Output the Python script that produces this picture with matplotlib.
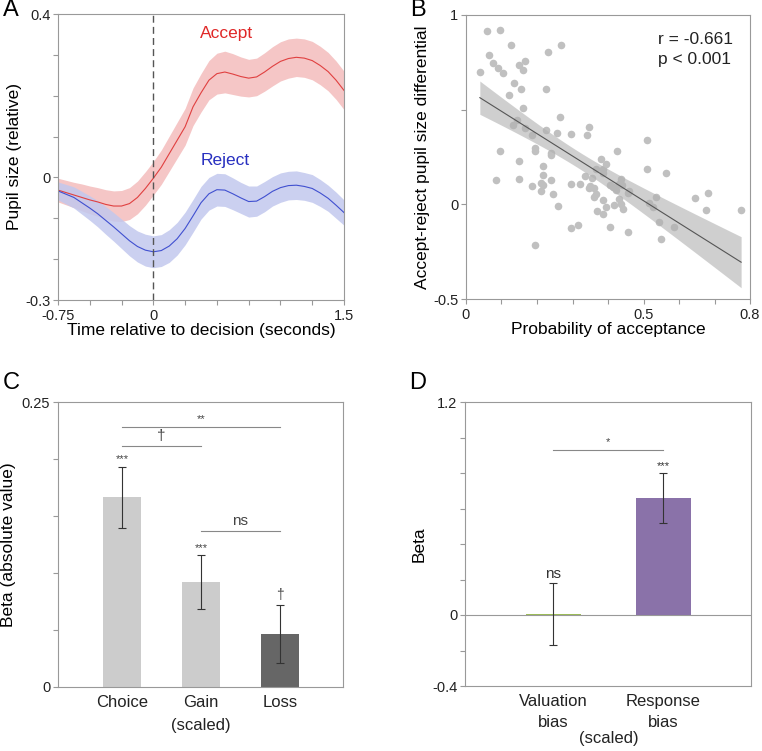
import numpy as np
import matplotlib
matplotlib.use('Agg')
import matplotlib.pyplot as plt

plt.rcParams['font.family'] = ['Liberation Sans', 'DejaVu Sans']

# Panel A: pupil time courses (seconds relative to decision)
t = [-0.75, -0.6875, -0.625, -0.5625, -0.5, -0.4375, -0.375, -0.3125, -0.25, -0.1875,
     -0.125, -0.0625, 0.0, 0.0625, 0.125, 0.1875, 0.25, 0.3125, 0.375, 0.4375,
     0.5, 0.5625, 0.625, 0.6875, 0.75, 0.8125, 0.875, 0.9375, 1.0, 1.0625,
     1.125, 1.1875, 1.25, 1.3125, 1.375, 1.4375, 1.5]
acc_mean = [-0.031, -0.037, -0.043, -0.049, -0.055, -0.060, -0.066, -0.070, -0.070, -0.064,
            -0.049, -0.027, -0.002, 0.025, 0.058, 0.091, 0.124, 0.173, 0.207, 0.238,
            0.254, 0.258, 0.253, 0.247, 0.243, 0.246, 0.258, 0.272, 0.284, 0.291,
            0.294, 0.292, 0.286, 0.274, 0.259, 0.238, 0.213]
acc_err = [0.029, 0.030, 0.031, 0.033, 0.034, 0.035, 0.036, 0.037, 0.038, 0.039,
           0.040, 0.041, 0.041, 0.042, 0.043, 0.044, 0.045, 0.046, 0.047, 0.048,
           0.050, 0.051, 0.050, 0.048, 0.046, 0.046, 0.047, 0.048, 0.048, 0.048,
           0.047, 0.047, 0.047, 0.047, 0.047, 0.047, 0.047]
rej_mean = [-0.033, -0.041, -0.049, -0.062, -0.075, -0.089, -0.105, -0.121, -0.138, -0.155,
            -0.169, -0.178, -0.182, -0.179, -0.168, -0.150, -0.125, -0.094, -0.062, -0.040,
            -0.030, -0.031, -0.040, -0.050, -0.059, -0.058, -0.047, -0.034, -0.025, -0.020,
            -0.019, -0.022, -0.027, -0.038, -0.051, -0.068, -0.086]
rej_err = [0.022, 0.024, 0.026, 0.028, 0.030, 0.032, 0.034, 0.035, 0.036, 0.037,
           0.038, 0.039, 0.039, 0.039, 0.040, 0.040, 0.040, 0.040, 0.040, 0.040,
           0.040, 0.040, 0.039, 0.038, 0.038, 0.037, 0.037, 0.036, 0.036, 0.035,
           0.035, 0.034, 0.034, 0.033, 0.032, 0.032, 0.031]

# Panel B: per-subject scatter
prob_acc = [0.039, 0.060, 0.065, 0.075, 0.090, 0.095, 0.105, 0.126, 0.135, 0.121,
            0.149, 0.165, 0.161, 0.155, 0.161, 0.131, 0.145, 0.165, 0.185, 0.194,
            0.194, 0.095, 0.149, 0.149, 0.085, 0.216, 0.216, 0.185, 0.210, 0.216,
            0.210, 0.240, 0.240, 0.240, 0.245, 0.260, 0.225, 0.231, 0.269, 0.265,
            0.255, 0.225, 0.295, 0.295, 0.320, 0.295, 0.315, 0.194, 0.335, 0.340,
            0.346, 0.350, 0.356, 0.346, 0.361, 0.361, 0.365, 0.370, 0.385, 0.386,
            0.380, 0.365, 0.385, 0.395, 0.385, 0.395, 0.406, 0.416, 0.425, 0.406,
            0.415, 0.422, 0.431, 0.436, 0.436, 0.441, 0.431, 0.440, 0.455, 0.455,
            0.460, 0.511, 0.511, 0.516, 0.526, 0.535, 0.545, 0.550, 0.564, 0.585,
            0.645, 0.675, 0.681, 0.775]
pupil_diff = [0.701, 0.913, 0.790, 0.749, 0.719, 0.922, 0.696, 0.843, 0.643, 0.578,
              0.737, 0.758, 0.707, 0.610, 0.509, 0.419, 0.445, 0.405, 0.366, 0.299,
              0.283, 0.281, 0.228, 0.136, 0.127, 0.203, 0.157, 0.095, 0.113, 0.104,
              0.071, 0.127, 0.272, 0.260, 0.053, -0.009, 0.608, 0.807, 0.843, 0.459,
              0.376, 0.392, 0.373, 0.106, 0.106, -0.127, -0.111, -0.217, 0.150, 0.367,
              0.410, 0.095, 0.138, 0.088, 0.087, 0.037, 0.057, -0.035, -0.051, 0.025,
              0.239, 0.189, 0.186, 0.212, 0.163, -0.014, -0.120, -0.005, 0.283, 0.104,
              0.092, 0.078, 0.110, 0.133, 0.000, -0.027, 0.028, 0.101, -0.148, 0.060,
              0.072, 0.339, 0.186, 0.009, -0.016, 0.039, -0.095, -0.184, 0.166, -0.122,
              0.035, -0.028, 0.060, -0.028]

# Panel C: bar chart
c_labels = ['Choice', 'Gain\n(scaled)', 'Loss']
c_vals = [0.1663, 0.0922, 0.0467]
c_errs = [0.027, 0.0235, 0.0255]
c_colors = ['#cccccc', '#cccccc', '#666666']
c_stars = ['***', '***', '\u2020']

# Panel D: bar chart
d_labels = ['Valuation\nbias', 'Response\nbias']
d_vals = [0.004, 0.660]
d_errs = [0.175, 0.142]
d_colors = ['#9bbb59', '#8a72a9']
d_stars = ['ns', '***']

W, H = 762, 751
fig = plt.figure(figsize=(W / 100, H / 100), dpi=100)


def box(l, t_, r, b):
    return [l / W, 1 - b / H, (r - l) / W, (b - t_) / H]


def style(ax):
    for s in ax.spines.values():
        s.set_color('#999999')
        s.set_linewidth(0.8)
    ax.tick_params(color='#999999', length=3.5, width=0.8, labelsize=10.5,
                   labelcolor='#222222', pad=2)


def sparse_labels(ticks, keep):
    return [keep.get(round(v, 3), '') for v in ticks]


# ---- A ----
ax = fig.add_axes(box(58, 14, 344, 300))
style(ax)
ax.fill_between(t, np.array(acc_mean) - acc_err, np.array(acc_mean) + acc_err,
                color='#f5c6c6', lw=0)
ax.fill_between(t, np.array(rej_mean) - rej_err, np.array(rej_mean) + rej_err,
                color='#c2c8ee', lw=0, alpha=0.85)
ax.plot(t, acc_mean, color='#e04040', lw=0.8)
ax.plot(t, rej_mean, color='#4050d0', lw=0.8)
ax.axvline(0, color='#555555', lw=1, dashes=(5, 3))
ax.set_xlim(-0.75, 1.5)
ax.set_ylim(-0.3, 0.4)
xt = np.arange(-0.75, 1.51, 0.25)
ax.set_xticks(xt, sparse_labels(xt, {-0.75: '-0.75', 0.0: '0', 1.5: '1.5'}))
yt = np.arange(-0.3, 0.41, 0.1)
ax.set_yticks(yt, sparse_labels(yt, {-0.3: '-0.3', 0.0: '0', 0.4: '0.4'}))
ax.tick_params(axis='x', pad=3)
ax.text(0.577, 0.352, 'Accept', color='#e02828', fontsize=12.5, ha='center', va='center')
ax.text(0.563, 0.042, 'Reject', color='#2830c0', fontsize=12.5, ha='center', va='center')
ax.set_xlabel('Time relative to decision (seconds)', fontsize=12.5, labelpad=0)
ax.set_ylabel('Pupil size (relative)', fontsize=12.5, labelpad=2)
fig.text(11 / W, 1 - 10 / H, 'A', fontsize=17, ha='center', va='center')

# ---- B ----
ax = fig.add_axes(box(466, 15, 750, 299))
style(ax)
x = np.array(prob_acc)
y = np.array(pupil_diff)
slope, icpt = np.polyfit(x, y, 1)
xs = np.linspace(x.min(), x.max(), 100)
n = len(x)
resid = y - (slope * x + icpt)
s = np.sqrt(np.sum(resid ** 2) / (n - 2))
ci = 1.99 * s * np.sqrt(1 / n + (xs - x.mean()) ** 2 / np.sum((x - x.mean()) ** 2))
ax.scatter(x, y, s=30, color='#c0c0c0', lw=0, zorder=2)
ax.fill_between(xs, slope * xs + icpt - ci, slope * xs + icpt + ci,
                color='#b0b0b0', alpha=0.6, lw=0, zorder=3)
ax.plot(xs, slope * xs + icpt, color='#555555', lw=0.8, zorder=4)
ax.set_xlim(0, 0.8)
ax.set_ylim(-0.5, 1)
xt = np.arange(0, 0.81, 0.1)
ax.set_xticks(xt, sparse_labels(xt, {0.0: '0', 0.5: '0.5', 0.8: '0.8'}))
ax.set_yticks([-0.5, 0, 0.5, 1], ['-0.5', '0', '', '1'])
ax.tick_params(axis='x', pad=3)
ax.text((658 - 466) / 284, (299 - 32) / 284, 'r = -0.661\np < 0.001', transform=ax.transAxes,
        fontsize=12.5, ha='left', va='top', color='#222222', linespacing=1.45)
ax.set_xlabel('Probability of acceptance', fontsize=12.5, labelpad=0)
ax.set_ylabel('Accept-reject pupil size differential', fontsize=12.5, labelpad=2)
fig.text(418 / W, 1 - 10 / H, 'B', fontsize=17, ha='center', va='center')

# ---- C ----
ax = fig.add_axes(box(58, 402, 343, 687))
style(ax)
xc = np.arange(len(c_vals))
ax.bar(xc, c_vals, width=0.49, color=c_colors, zorder=2)
ax.errorbar(xc, c_vals, yerr=c_errs, fmt='none', ecolor='#333333', elinewidth=0.8,
            capsize=3, capthick=0.8, zorder=3)
for xi, v, e, st in zip(xc, c_vals, c_errs, c_stars):
    ax.text(xi, v + e + 0.002, st, ha='center', va='bottom',
            fontsize=8 if st.startswith('*') else 10, color='#444444')
for x0, x1, yl, lab in [(0, 1, 0.211, '\u2020'), (0, 2, 0.228, '**'), (1, 2, 0.1365, 'ns')]:
    ax.plot([x0, x1], [yl, yl], color='#888888', lw=0.8)
    ax.text((x0 + x1) / 2, yl + 0.003, lab, ha='center', va='bottom',
            fontsize=8 if lab.startswith('*') else 11, color='#444444')
ax.set_xlim(-0.81, 2.8)
ax.set_ylim(0, 0.25)
ax.set_xticks(xc, c_labels, linespacing=1.6)
ax.tick_params(axis='x', length=0, labelsize=12, pad=6)
ax.set_yticks(np.arange(0, 0.251, 0.05), ['0', '', '', '', '', '0.25'])
ax.set_ylabel('Beta (absolute value)', fontsize=12.5, labelpad=4)
fig.text(11 / W, 1 - 383 / H, 'C', fontsize=17, ha='center', va='center')

# ---- D ----
ax = fig.add_axes(box(465, 402, 751, 686))
style(ax)
xd = np.arange(len(d_vals))
ax.axhline(0, color='#999999', lw=0.8, zorder=1)
ax.bar(xd, d_vals, width=0.5, color=d_colors, zorder=2)
ax.errorbar(xd, d_vals, yerr=d_errs, fmt='none', ecolor='#333333', elinewidth=0.8,
            capsize=3, capthick=0.8, zorder=3)
for xi, v, e, st in zip(xd, d_vals, d_errs, d_stars):
    ax.text(xi, v + e + 0.01, st, ha='center', va='bottom',
            fontsize=8 if st.startswith('*') else 11, color='#333333')
ax.plot([0, 1], [0.932, 0.932], color='#888888', lw=0.8)
ax.text(0.5, 0.945, '*', ha='center', va='bottom', fontsize=8, color='#444444')
ax.set_xlim(-0.8, 1.8)
ax.set_ylim(-0.4, 1.2)
ax.set_xticks(xd, d_labels, linespacing=1.5)
ax.tick_params(axis='x', length=0, labelsize=12, pad=6)
yt = np.arange(-0.4, 1.21, 0.2)
ax.set_yticks(yt, sparse_labels(yt, {-0.4: '-0.4', 0.0: '0', 1.2: '1.2'}))
fig.text(609 / W, 1 - 739 / H, '(scaled)', ha='center', va='center',
         fontsize=12, color='#222222')
ax.set_ylabel('Beta', fontsize=12.5, labelpad=4)
fig.text(418 / W, 1 - 383 / H, 'D', fontsize=17, ha='center', va='center')

fig.savefig('out.png', dpi=100)
